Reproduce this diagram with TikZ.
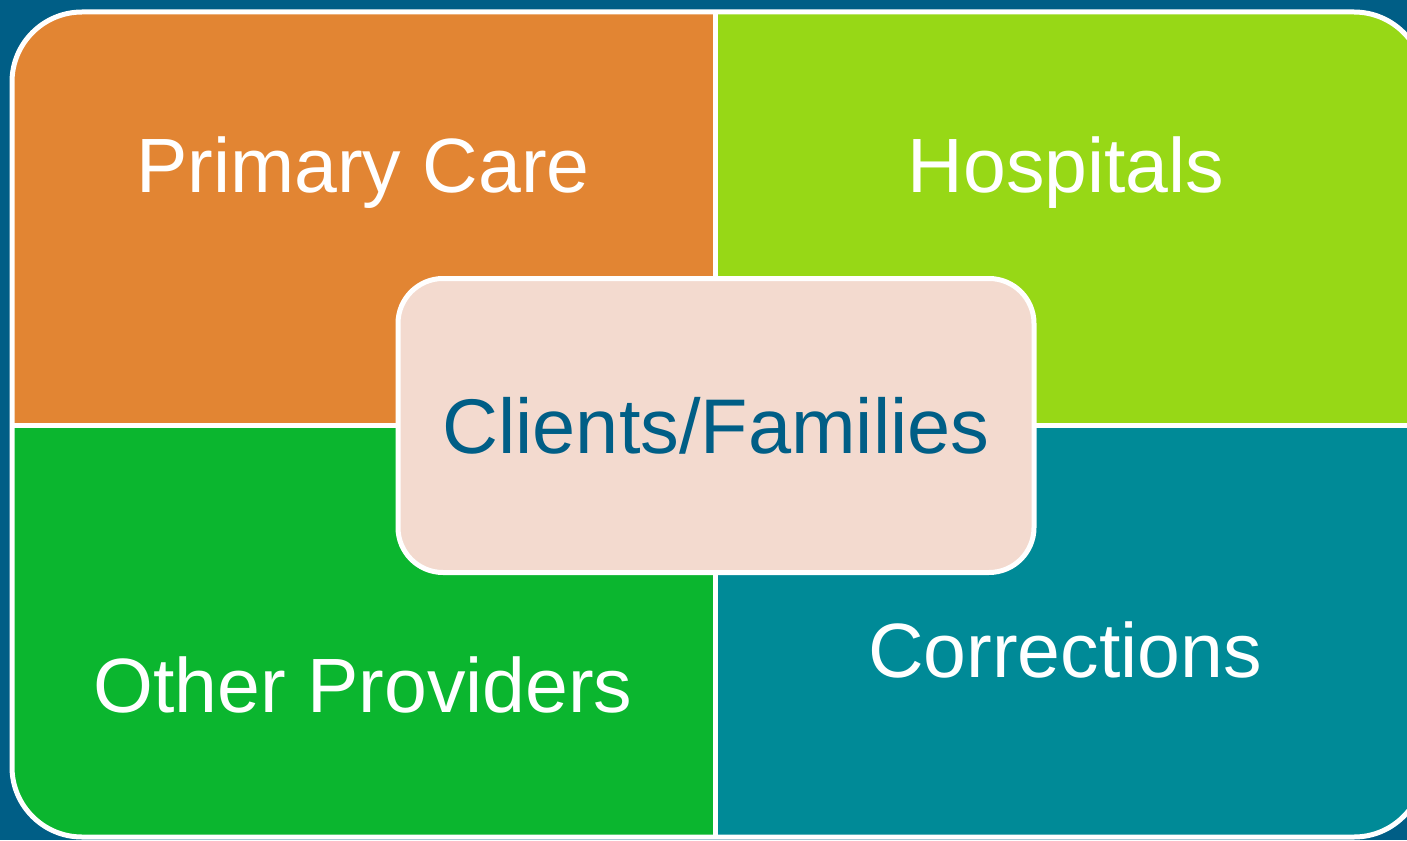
\documentclass[tikz,border=0pt]{standalone}
\usepackage{fontspec}
\setmainfont{Liberation Sans}

\definecolor{bgblue}{HTML}{005E86}
\definecolor{qorange}{HTML}{E28533}
\definecolor{qlime}{HTML}{97D816}
\definecolor{qgreen}{HTML}{0BB62F}
\definecolor{qteal}{HTML}{008A97}
\definecolor{cpink}{HTML}{F3DACF}

\begin{document}
\begin{tikzpicture}[x=1pt,y=-1pt,
  quadtext/.style={white,anchor=base,font=\fontsize{77}{90}\selectfont},
  centerbox/.style={draw=white,line width=5pt,fill=cpink,rounded corners=45pt,
    minimum width=636pt,minimum height=294pt,text=bgblue,
    font=\fontsize{77.5}{92}\selectfont}]
\useasboundingbox (0,0) rectangle (1407,840);
\clip (0,0) rectangle (1407,840);
\fill[bgblue] (0,0) rectangle (1407,840);

% quadrants
\begin{scope}
\clip[rounded corners=70pt] (12,12) rectangle (1424,837);
\fill[qorange] (0,0) rectangle (715,425);
\fill[qlime] (715,0) rectangle (1430,425);
\fill[qgreen] (0,425) rectangle (715,840);
\fill[qteal] (715,425) rectangle (1430,840);
\end{scope}

\draw[white,line width=5pt,rounded corners=70pt] (12,12) rectangle (1424,837);
\draw[white,line width=5pt] (715,12) -- (715,837);
\draw[white,line width=5pt] (12,425.5) -- (1424,425.5);

\node[quadtext] (PC) at (363,192) {Primary Care};
\node[quadtext] (H) at (1066,192) {Hospitals};
\node[quadtext] (OP) at (363,712) {Other Providers};
\node[quadtext] (Co) at (1065,677) {Corrections};

\node[centerbox] (CF) at (716,425.5) {Clients/Families};

\end{tikzpicture}
\end{document}
